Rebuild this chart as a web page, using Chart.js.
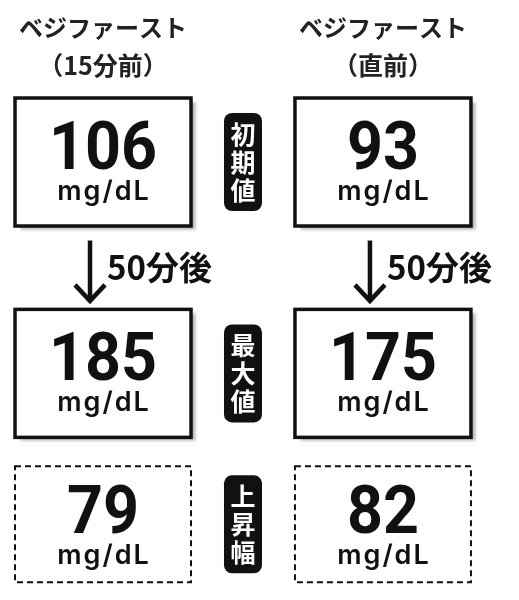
<!DOCTYPE html>
<html lang="ja">
<head>
  <meta charset="UTF-8">
  <title>ベジファースト 血糖値</title>
  <script src="https://cdn.jsdelivr.net/npm/chart.js"></script>
  <style>
    html, body { margin: 0; padding: 0; background: #fff; }
    #wrap { position: relative; width: 519px; height: 600px; }
  </style>
</head>
<body>
<div id="wrap"><canvas id="chart"></canvas></div>

<script>
// data
const columnTitles = ['ベジファースト', 'ベジファースト'];
const columnSubtitles = ['（15分前）', '（直前）'];
const rowLabels = ['初期値', '最大値', '上昇幅'];
const initialValues = [106, 93];
const peakValues = [185, 175];
const riseValues = [79, 82];
const unit = 'mg/dL';
const intervalLabel = '50分後';

// layout in scale units (rows are not evenly spaced: arrow gap after first row)
const rowPos = [0, 1.4, 2.4];
const rowValues = [initialValues, peakValues, riseValues];

const JP = '"Noto Sans CJK JP", sans-serif';

function roundRect(ctx, x, y, w, h, r) {
  ctx.beginPath();
  ctx.moveTo(x + r, y);
  ctx.arcTo(x + w, y, x + w, y + h, r);
  ctx.arcTo(x + w, y + h, x, y + h, r);
  ctx.arcTo(x, y + h, x, y, r);
  ctx.arcTo(x, y, x + w, y, r);
  ctx.closePath();
}

const boardPlugin = {
  id: 'board',
  afterDatasetsDraw(chart) {
    const ctx = chart.ctx;
    const xs = chart.scales.x, ys = chart.scales.y;
    ctx.save();
    ctx.textAlign = 'center';

    // column headers
    columnTitles.forEach((t, i) => {
      const cx = xs.getPixelForValue(i);
      ctx.fillStyle = '#222';
      ctx.textBaseline = 'middle';
      ctx.font = 'bold 24px ' + JP;
      ctx.fillText(t, cx, ys.getPixelForValue(-0.89), 172);
      ctx.font = 'bold 25px ' + JP;
      ctx.fillText(columnSubtitles[i], cx, ys.getPixelForValue(-0.64));
    });

    // boxes
    chart.data.datasets.forEach((ds, r) => {
      const meta = chart.getDatasetMeta(r);
      const dashed = r === 2;
      meta.data.forEach((pt, i) => {
        const w = 176, h = dashed ? 116 : 128;
        const x = pt.x - 88, y = pt.y - h / 2;
        ctx.save();
        if (!dashed) {
          ctx.shadowColor = 'rgba(0,0,0,0.3)';
          ctx.shadowBlur = 3;
          ctx.shadowOffsetX = 5;
          ctx.shadowOffsetY = 4;
          ctx.fillStyle = '#fff';
          ctx.fillRect(x, y, w, h);
        }
        ctx.restore();
        ctx.save();
        ctx.strokeStyle = '#111';
        if (dashed) {
          ctx.lineWidth = 2;
          ctx.setLineDash([6, 4]);
        } else {
          ctx.lineWidth = 3.5;
        }
        ctx.strokeRect(x, y, w, h);
        ctx.restore();

        const v = String(ds.data[i].v);
        const off = dashed ? 2 : 0;
        ctx.fillStyle = '#111';
        ctx.textBaseline = 'alphabetic';
        ctx.font = 'bold 66px Roboto';
        ctx.fillText(v, pt.x, pt.y + 7 + off, v.length * 36);
        ctx.font = '600 27px Inter, "Noto Sans"';
        ctx.letterSpacing = '2px';
        ctx.fillText(unit, pt.x + 1, pt.y + 38 + off, 104);
        ctx.letterSpacing = '0px';
      });

      // row label pill
      const px = xs.getPixelForValue(0.5);
      const py = ys.getPixelForValue(rowPos[r]);
      ctx.fillStyle = '#111';
      roundRect(ctx, px - 19, py - 49, 38, 98, 8);
      ctx.fill();
      ctx.fillStyle = '#fff';
      ctx.font = 'bold 25px ' + JP;
      ctx.textBaseline = 'middle';
      [...rowLabels[r]].forEach((c, k) => {
        ctx.fillText(c, px, py + (k - 1) * 28);
      });
    });

    // arrows between first and second row
    const ay0 = ys.getPixelForValue(0.52);
    const ay1 = ys.getPixelForValue(0.92);
    columnTitles.forEach((_, i) => {
      const ax = xs.getPixelForValue(i) - 13;
      ctx.strokeStyle = '#111';
      ctx.lineWidth = 4.5;
      ctx.lineCap = 'butt';
      ctx.beginPath();
      ctx.moveTo(ax, ay0);
      ctx.lineTo(ax, ay1);
      ctx.stroke();
      ctx.beginPath();
      ctx.moveTo(ax - 15, ay1 - 16);
      ctx.lineTo(ax, ay1);
      ctx.lineTo(ax + 15, ay1 - 16);
      ctx.stroke();
      ctx.fillStyle = '#111';
      ctx.font = 'bold 33px ' + JP;
      ctx.textAlign = 'left';
      ctx.textBaseline = 'middle';
      ctx.fillText(intervalLabel, ax + 17, ys.getPixelForValue(0.7), 108);
      ctx.textAlign = 'center';
    });
    ctx.restore();
  }
};

const datasets = rowLabels.map((label, r) => ({
  label: label,
  data: rowValues[r].map((v, i) => ({ x: i, y: rowPos[r], v: v })),
  pointRadius: 0,
  showLine: false
}));

new Chart(document.getElementById('chart'), {
  type: 'scatter',
  data: { datasets: datasets },
  options: {
    responsive: true,
    maintainAspectRatio: false,
    animation: false,
    layout: { padding: 0 },
    plugins: { legend: { display: false }, tooltip: { enabled: false } },
    scales: {
      x: { type: 'linear', display: false, min: -0.368, max: 1.486 },
      y: { type: 'linear', display: false, reverse: true, min: -1.073, max: 2.901 }
    }
  },
  plugins: [boardPlugin]
});
</script>
</body>
</html>
